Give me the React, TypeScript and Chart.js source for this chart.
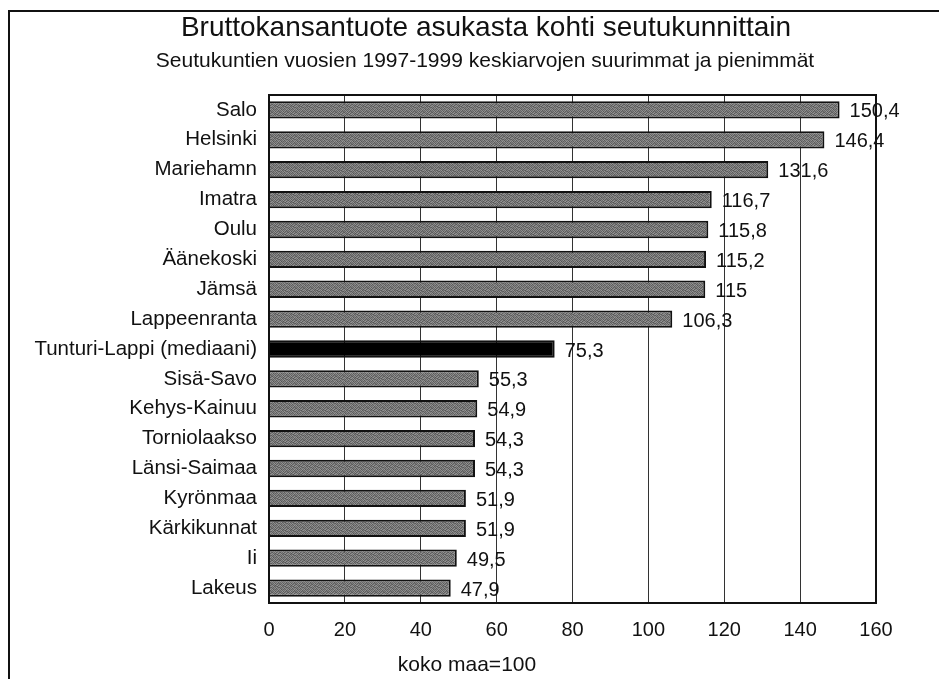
import React, { useEffect, useRef } from "react";
import { Chart, registerables } from "chart.js";

Chart.register(...registerables);

const categories: string[] = [
  "Salo",
  "Helsinki",
  "Mariehamn",
  "Imatra",
  "Oulu",
  "Äänekoski",
  "Jämsä",
  "Lappeenranta",
  "Tunturi-Lappi (mediaani)",
  "Sisä-Savo",
  "Kehys-Kainuu",
  "Torniolaakso",
  "Länsi-Saimaa",
  "Kyrönmaa",
  "Kärkikunnat",
  "Ii",
  "Lakeus",
];

const values: number[] = [
  150.4, 146.4, 131.6, 116.7, 115.8, 115.2, 115, 106.3, 75.3, 55.3, 54.9, 54.3,
  54.3, 51.9, 51.9, 49.5, 47.9,
];

const medianLabel = "Tunturi-Lappi (mediaani)";
const xTicks: number[] = [0, 20, 40, 60, 80, 100, 120, 140, 160];

const titleText = "Bruttokansantuote asukasta kohti seutukunnittain";
const subtitleText =
  "Seutukuntien vuosien 1997-1999 keskiarvojen suurimmat ja pienimmät";
const axisTitleText = "koko maa=100";

const FONT = '"Liberation Sans", Arial, Helvetica, sans-serif';

// fixed (hand-written) halftone tile for the grey bar texture
const tile: number[] = [
  90, 135, 105, 150, 95, 120, 140, 100,
  145, 100, 125, 85, 130, 150, 90, 125,
  110, 150, 90, 120, 105, 85, 135, 145,
  130, 95, 140, 100, 150, 115, 100, 90,
  95, 125, 110, 145, 90, 135, 120, 140,
  150, 85, 130, 95, 125, 100, 150, 105,
  105, 140, 100, 135, 110, 145, 90, 130,
  125, 100, 150, 90, 140, 95, 115, 100,
];

function makePattern(): CanvasPattern | string {
  const c = document.createElement("canvas");
  c.width = 8;
  c.height = 8;
  const ctx = c.getContext("2d");
  if (!ctx) return "#787878";
  for (let i = 0; i < 64; i++) {
    const v = tile[i];
    ctx.fillStyle = `rgb(${v},${v},${v})`;
    ctx.fillRect(i % 8, Math.floor(i / 8), 1, 1);
  }
  return ctx.createPattern(c, "repeat") || "#787878";
}

const fmt = (v: number) => String(v).replace(".", ",");

export default function App() {
  const ref = useRef<HTMLCanvasElement | null>(null);

  useEffect(() => {
    if (!ref.current) return;
    const pattern = makePattern();
    const colors = categories.map((c) => (c === medianLabel ? "#000000" : pattern));

    const framePlugin = {
      id: "frame",
      beforeDraw(chart: any) {
        const ctx = chart.ctx;
        ctx.save();
        ctx.fillStyle = "#ffffff";
        ctx.fillRect(0, 0, chart.width, chart.height);
        ctx.strokeStyle = "#111";
        ctx.lineWidth = 2;
        ctx.beginPath();
        ctx.moveTo(9, chart.height + 2);
        ctx.lineTo(9, 11);
        ctx.lineTo(chart.width + 2, 11);
        ctx.stroke();
        // title and subtitle, centred on the frame
        ctx.fillStyle = "#111";
        ctx.textAlign = "center";
        ctx.textBaseline = "middle";
        ctx.font = `28px ${FONT}`;
        ctx.fillText(titleText, 486, 28);
        ctx.font = `21px ${FONT}`;
        ctx.fillText(subtitleText, 485, 61);
        ctx.restore();
      },
      afterDatasetsDraw(chart: any) {
        const ctx = chart.ctx;
        const a = chart.chartArea;
        ctx.save();
        ctx.strokeStyle = "#111";
        ctx.lineWidth = 2;
        ctx.strokeRect(a.left, a.top, a.right - a.left, a.bottom - a.top);
        // value labels
        const meta = chart.getDatasetMeta(0);
        ctx.fillStyle = "#111";
        ctx.font = `20px ${FONT}`;
        ctx.textAlign = "left";
        ctx.textBaseline = "middle";
        meta.data.forEach((bar: any, i: number) => {
          ctx.fillText(fmt(values[i]), bar.x + 10, bar.y + 2);
        });
        // axis title centred on the frame
        ctx.textAlign = "center";
        ctx.font = `21px ${FONT}`;
        ctx.fillText(axisTitleText, 467, 665);
        ctx.restore();
      },
    };

    const chart = new Chart(ref.current, {
      type: "bar",
      data: {
        labels: categories,
        datasets: [
          {
            data: values,
            backgroundColor: colors as any,
            borderColor: "#111",
            borderWidth: 2,
            categoryPercentage: 1,
            barPercentage: 0.58,
          },
        ],
      },
      options: {
        indexAxis: "y",
        animation: false,
        responsive: false,
        layout: { padding: { left: 0, right: 63, top: 95, bottom: 0 } },
        plugins: {
          legend: { display: false },
          tooltip: { enabled: false },
          title: { display: false },
          subtitle: { display: false },
        },
        scales: {
          x: {
            type: "linear",
            min: 0,
            max: 160,
            afterBuildTicks: (scale: any) => {
              scale.ticks = xTicks.map((v) => ({ value: v }));
            },
            afterFit: (scale: any) => {
              scale.height = 76;
            },
            grid: {
              color: "#333",
              lineWidth: 1,
              drawTicks: false,
            },
            border: { display: true, color: "#111", width: 2 },
            ticks: {
              color: "#111",
              padding: 15,
              font: { family: FONT, size: 20 },
            },
          },
          y: {
            type: "category",
            afterFit: (scale: any) => {
              scale.width = 269;
            },
            grid: { display: false, drawTicks: false },
            border: { display: true, color: "#111", width: 2 },
            ticks: {
              color: "#111",
              padding: 12,
              autoSkip: false,
              font: { family: FONT, size: 20.5 },
            },
          },
        },
      },
      plugins: [framePlugin],
    });
    return () => chart.destroy();
  }, []);

  return (
    <div
      style={{
        position: "fixed",
        left: 0,
        top: 0,
        width: 939,
        height: 679,
        background: "#fff",
      }}
    >
      <canvas ref={ref} width={939} height={679} />
    </div>
  );
}
